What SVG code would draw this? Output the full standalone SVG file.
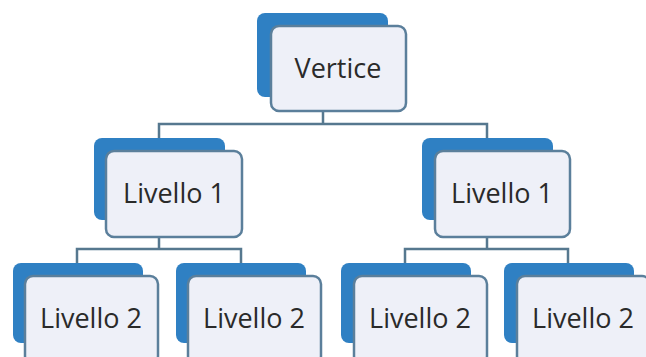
<svg xmlns="http://www.w3.org/2000/svg" width="646" height="357" viewBox="0 0 646 357">
<style>
.bg{fill:#2f80c3;}
.fr{fill:#eef0f8;stroke:#5b7f9b;stroke-width:2.5;}
.lbl{font-family:"Open Sans","Liberation Sans",sans-serif;font-size:27px;fill:#2a2a2a;text-anchor:middle;}
.con{fill:none;stroke:#56788f;stroke-width:2.5;}
</style>
<rect width="646" height="357" fill="#ffffff"/>
<g id="connectors">
<path class="con" d="M323,111 V124 M159,138 V124 H487 V138"/>
<path class="con" d="M159,237 V249 M77,263 V249 H241 V263"/>
<path class="con" d="M487,237 V249 M405,263 V249 H568 V263"/>
</g>
<g id="vertice">
<rect class="bg" x="257" y="13" width="131" height="84" rx="8"/>
<rect class="fr" x="271" y="26" width="135" height="85" rx="8"/>
<text class="lbl" x="338" y="78">Vertice</text>
</g>
<g id="livello1-a">
<rect class="bg" x="94" y="138" width="131" height="82" rx="8"/>
<rect class="fr" x="106" y="151" width="136" height="86" rx="8"/>
<text class="lbl" x="174" y="203">Livello 1</text>
</g>
<g id="livello1-b">
<rect class="bg" x="422" y="138" width="131" height="82" rx="8"/>
<rect class="fr" x="435" y="151" width="135" height="86" rx="8"/>
<text class="lbl" x="502" y="203">Livello 1</text>
</g>
<g id="livello2-a">
<rect class="bg" x="13" y="263" width="130" height="80" rx="8"/>
<rect class="fr" x="25" y="276" width="133" height="88" rx="8"/>
<text class="lbl" x="91" y="328">Livello 2</text>
</g>
<g id="livello2-b">
<rect class="bg" x="176" y="263" width="130" height="80" rx="8"/>
<rect class="fr" x="188" y="276" width="133" height="88" rx="8"/>
<text class="lbl" x="254" y="328">Livello 2</text>
</g>
<g id="livello2-c">
<rect class="bg" x="341" y="263" width="130" height="80" rx="8"/>
<rect class="fr" x="354" y="276" width="133" height="88" rx="8"/>
<text class="lbl" x="420" y="328">Livello 2</text>
</g>
<g id="livello2-d">
<rect class="bg" x="504" y="263" width="130" height="80" rx="8"/>
<rect class="fr" x="517" y="276" width="133" height="88" rx="8"/>
<text class="lbl" x="583" y="328">Livello 2</text>
</g>
</svg>
